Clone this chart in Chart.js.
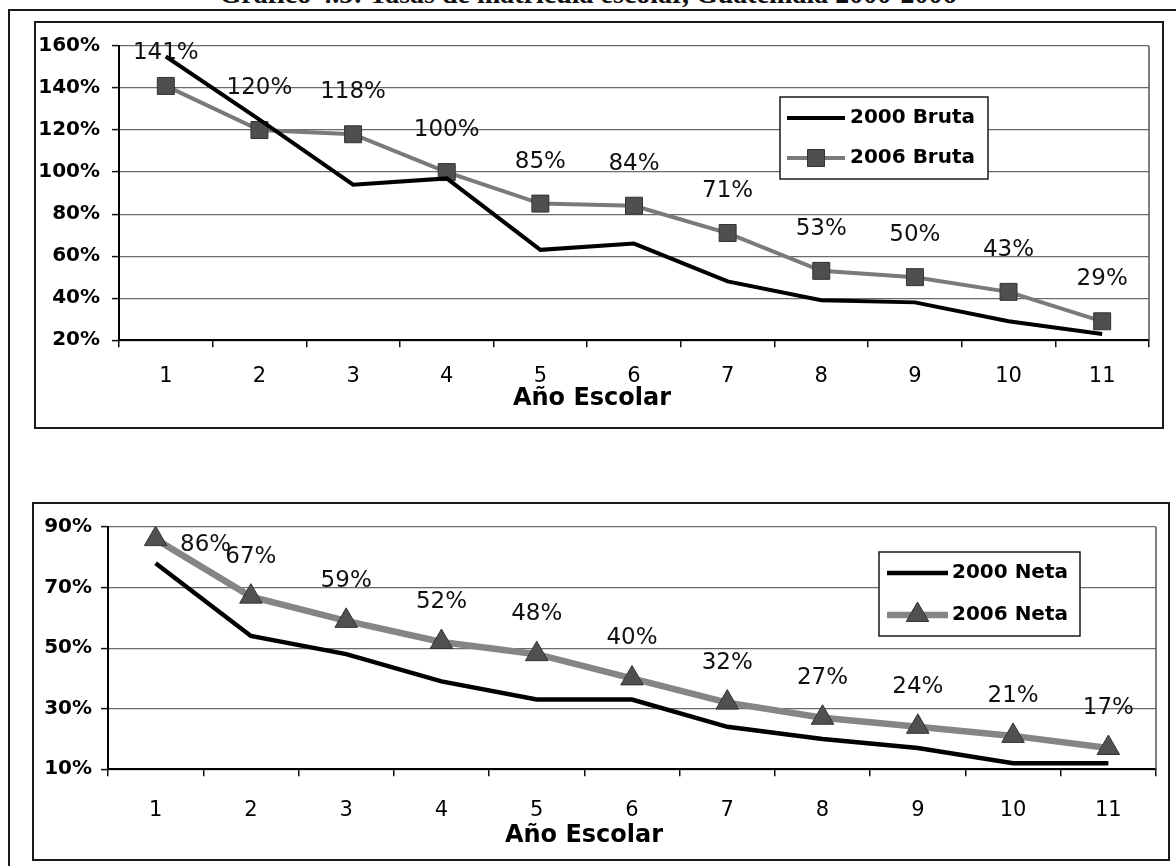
<!DOCTYPE html>
<html>
<head>
<meta charset="utf-8">
<script src="https://cdn.jsdelivr.net/npm/chart.js@4.4.1/dist/chart.umd.min.js"></script>
<style>
  html, body { margin:0; padding:0; background:#fff; }
  body { width:1176px; height:866px; overflow:hidden; position:relative; font-family:"DejaVu Sans", sans-serif; }
  .frame { position:absolute; border:0 solid #1a1a1a; box-sizing:border-box; }
  #page { left:8px; top:9px; width:1200px; height:900px; border-left-width:2px; border-top-width:2px; }
  #box1 { left:34px; top:21px; width:1130px; height:408px; border-width:2px; }
  #box2 { left:32px; top:502px; width:1138px; height:359px; border-width:2px; }
  #cap { position:absolute; left:0; top:-20px; width:1176px; text-align:center;
         font:bold 28px "Liberation Serif", serif; line-height:28px; color:#111; white-space:nowrap; }
  .wrap { position:absolute; }
  #w1 { left:35px; top:22px; width:1128px; height:406px; }
  #w2 { left:0px; top:503px; width:1170px; height:357px; }
</style>
</head>
<body>
<div class="frame" id="page"></div>
<div id="cap">Gráfico 4.5: Tasas de matrícula escolar, Guatemala 2000-2006</div>
<div class="frame" id="box1"></div>
<div class="frame" id="box2"></div>
<div class="wrap" id="w1"><canvas id="c1"></canvas></div>
<div class="wrap" id="w2"><canvas id="c2"></canvas></div>

<script>
// School year (grade) categories
const grades = ['1', '2', '3', '4', '5', '6', '7', '8', '9', '10', '11'];

// Gross enrolment rate (%) by school year
const bruta2000 = [155, 125, 94, 97, 63, 66, 48, 39, 38, 29, 23];
const bruta2006 = [141, 120, 118, 100, 85, 84, 71, 53, 50, 43, 29];

// Net enrolment rate (%) by school year
const neta2000 = [78, 54, 48, 39, 33, 33, 24, 20, 17, 12, 12];
const neta2006 = [86, 67, 59, 52, 48, 40, 32, 27, 24, 21, 17];

// Y-axis tick values (%)
const brutaTicks = [20, 40, 60, 80, 100, 120, 140, 160];
const netaTicks = [10, 30, 50, 70, 90];

const axisTitle = 'Año Escolar';
const FONT = '"DejaVu Sans", sans-serif';

// Writes each value above its marker; a label that would run past the
// top of the plot is either pinned under the top edge or moved to the side.
const valueLabels = {
  id: 'valueLabels',
  afterDatasetsDraw(chart, args, o) {
    const { ctx, chartArea } = chart;
    chart.data.datasets.forEach((ds, i) => {
      if (!ds.showValues) return;
      const meta = chart.getDatasetMeta(i);
      meta.data.forEach((pt, j) => {
        let x = pt.x, y = pt.y - o.lift;
        if (y < chartArea.top + o.minGap) {
          if (o.overflow === 'side') { x = pt.x + o.sideX; y = pt.y + o.sideY; }
          else { y = chartArea.top + o.minGap; }
        }
        ctx.save();
        ctx.font = o.font;
        ctx.fillStyle = '#111';
        ctx.textAlign = 'center';
        ctx.textBaseline = 'middle';
        ctx.fillText(ds.data[j] + '%', x, y);
        ctx.restore();
      });
    });
  }
};

// Boxed legend sitting inside the plot
const boxLegend = {
  id: 'boxLegend',
  afterDraw(chart, args, o) {
    const ctx = chart.ctx;
    ctx.save();
    ctx.fillStyle = '#fff';
    ctx.fillRect(o.x, o.y, o.w, o.h);
    ctx.strokeStyle = '#1a1a1a';
    ctx.lineWidth = 1.5;
    ctx.strokeRect(o.x, o.y, o.w, o.h);
    chart.data.datasets.forEach((ds, i) => {
      const cy = o.y + o.rowTop + i * o.rowGap;
      const x0 = o.x + o.lineFrom, x1 = o.x + o.lineTo;
      ctx.strokeStyle = ds.borderColor;
      ctx.lineWidth = ds.borderWidth;
      ctx.beginPath(); ctx.moveTo(x0, cy); ctx.lineTo(x1, cy); ctx.stroke();
      if (ds.pointRadius > 0) {
        ctx.fillStyle = ds.pointBackgroundColor;
        ctx.strokeStyle = ds.pointBorderColor;
        ctx.lineWidth = ds.pointBorderWidth;
        Chart.helpers.drawPoint(ctx, { pointStyle: ds.pointStyle, radius: ds.pointRadius, borderWidth: ds.pointBorderWidth }, (x0 + x1) / 2, cy);
      }
      ctx.fillStyle = '#000';
      ctx.font = o.font;
      ctx.textAlign = 'left';
      ctx.textBaseline = 'middle';
      ctx.fillText(ds.label, o.x + o.textX, cy);
    });
    ctx.restore();
  }
};

// Thin frame line on the right edge of the plot
const plotEdge = {
  id: 'plotEdge',
  beforeDatasetsDraw(chart) {
    const { ctx, chartArea: a } = chart;
    ctx.save();
    ctx.strokeStyle = '#555';
    ctx.lineWidth = 1.5;
    ctx.beginPath(); ctx.moveTo(a.right, a.top); ctx.lineTo(a.right, a.bottom); ctx.stroke();
    ctx.restore();
  }
};

function makeChart(id, cfg) {
  return new Chart(document.getElementById(id), {
    type: 'line',
    data: { labels: grades, datasets: cfg.datasets },
    plugins: [plotEdge, valueLabels, boxLegend],
    options: {
      responsive: true,
      maintainAspectRatio: false,
      animation: false,
      layout: { padding: cfg.padding },
      elements: { line: { tension: 0 } },
      plugins: {
        legend: { display: false },
        tooltip: { enabled: false },
        title: {
          display: true, position: 'bottom', text: axisTitle, color: '#000',
          font: { family: FONT, size: 24, weight: 'bold', lineHeight: 1.2 },
          padding: cfg.titlePad
        },
        valueLabels: cfg.valueLabels,
        boxLegend: cfg.legend
      },
      scales: {
        x: {
          offset: true,
          afterFit(s) { s.height = cfg.xHeight; },
          grid: { offset: true, drawOnChartArea: false, drawTicks: true, tickLength: 7, color: '#111', lineWidth: 1.5 },
          border: { display: true, color: '#000', width: 2 },
          ticks: { color: '#000', padding: cfg.xPad, font: { family: FONT, size: 21 }, maxRotation: 0, autoSkip: false }
        },
        y: {
          min: cfg.yTicks[0], max: cfg.yTicks[cfg.yTicks.length - 1],
          afterBuildTicks(s) { s.ticks = cfg.yTicks.map(v => ({ value: v })); },
          afterFit(s) { s.width = cfg.yWidth; },
          grid: { color: '#6a6a6a', lineWidth: 1.2, tickLength: 7, tickColor: '#111', tickWidth: 1.5 },
          border: { display: true, color: '#000', width: 2 },
          ticks: { color: '#000', padding: cfg.yPad, font: { family: FONT, size: 20, weight: 'bold' }, callback: v => v + '%' }
        }
      }
    }
  });
}

makeChart('c1', {
  padding: { left: 0, top: 21, right: 14, bottom: 12 },
  xHeight: 54, xPad: 17, yWidth: 84, yPad: 12,
  titlePad: { top: -10, bottom: 3 },
  yTicks: brutaTicks,
  valueLabels: { font: '23px ' + FONT, lift: 42, minGap: 7, overflow: 'pin' },
  legend: { x: 745, y: 75, w: 208, h: 82, rowTop: 21, rowGap: 40, lineFrom: 7, lineTo: 65, textX: 70, font: 'bold 20px ' + FONT },
  datasets: [
    { label: '2000 Bruta', data: bruta2000, borderColor: '#000', borderWidth: 4, pointRadius: 0 },
    { label: '2006 Bruta', data: bruta2006, borderColor: '#7a7a7a', borderWidth: 4,
      pointStyle: 'rect', pointRadius: 12, pointBackgroundColor: '#4f4f4f', pointBorderColor: '#333', pointBorderWidth: 1,
      showValues: true }
  ]
});

makeChart('c2', {
  padding: { left: 0, top: 24, right: 2, bottom: 7 },
  xHeight: 56, xPad: 22, yWidth: 108, yPad: 9,
  titlePad: { top: -4, bottom: 3 },
  yTicks: netaTicks,
  valueLabels: { font: '23px ' + FONT, lift: 40, minGap: 7, overflow: 'side', sideX: 50, sideY: 6 },
  legend: { x: 879, y: 49, w: 201, h: 84, rowTop: 21, rowGap: 42, lineFrom: 8, lineTo: 69, textX: 73, font: 'bold 20px ' + FONT },
  datasets: [
    { label: '2000 Neta', data: neta2000, borderColor: '#000', borderWidth: 4.5, pointRadius: 0 },
    { label: '2006 Neta', data: neta2006, borderColor: '#858585', borderWidth: 6.5,
      pointStyle: 'triangle', pointRadius: 13, pointBackgroundColor: '#505050', pointBorderColor: '#333', pointBorderWidth: 1,
      showValues: true }
  ]
});
</script>
</body>
</html>
